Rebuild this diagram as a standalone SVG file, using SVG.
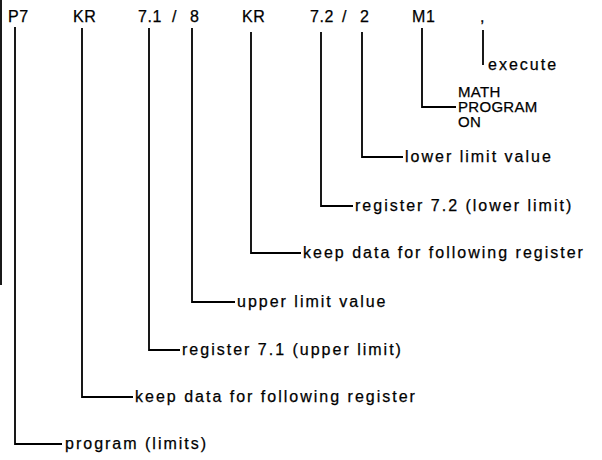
<svg xmlns="http://www.w3.org/2000/svg" width="602" height="460" viewBox="0 0 602 460">
<style>
text{font-family:"Liberation Sans",Arial,sans-serif;font-size:16px;fill:#000;stroke:#000;stroke-width:0.25}
.t{letter-spacing:0.6px}
.m{font-size:15px;letter-spacing:0.3px}
.l{letter-spacing:2px}
.c{fill:none;stroke:#000;stroke-width:1.8}
</style>
<rect width="602" height="460" fill="#fff"/>
<g id="edge"><line class="c" x1="1" y1="0" x2="1" y2="285"/></g>
<g id="connectors">
<polyline class="c" points="15,27 15,444 62,444"/>
<polyline class="c" points="82,28 82,397 133,397"/>
<polyline class="c" points="149,28 149,350 180,350"/>
<polyline class="c" points="192,28 192,302 235,302"/>
<polyline class="c" points="251,32 251,253 301,253"/>
<polyline class="c" points="321,32 321,206 353,206"/>
<polyline class="c" points="362,32 362,157 403,157"/>
<polyline class="c" points="422,28 422,107 456,107"/>
<line class="c" x1="483" y1="30" x2="483" y2="65"/>
</g>
<g id="top">
<text class="t" x="8" y="22">P7</text>
<text class="t" x="73" y="22">KR</text>
<text class="t" x="138" y="22">7.1</text>
<text class="t" x="172" y="22">/</text>
<text class="t" x="190" y="22">8</text>
<text class="t" x="242" y="22">KR</text>
<text class="t" x="310" y="22">7.2</text>
<text class="t" x="342" y="22">/</text>
<text class="t" x="360" y="22">2</text>
<text class="t" x="412" y="22">M1</text>
<text class="t" x="480" y="22">,</text>
</g>
<g id="n-execute"><text class="l" x="488" y="70">execute</text></g>
<g id="n-math">
<text class="m" x="458" y="97">MATH</text>
<text class="m" x="458" y="112">PROGRAM</text>
<text class="m" x="458" y="127">ON</text>
</g>
<g id="n-lower-value"><text class="l" x="405" y="162">lower limit value</text></g>
<g id="n-reg72"><text class="l" x="355" y="211">register 7.2 (lower limit)</text></g>
<g id="n-keep2"><text class="l" x="303" y="258">keep data for following register</text></g>
<g id="n-upper-value"><text class="l" x="237" y="307">upper limit value</text></g>
<g id="n-reg71"><text class="l" x="182" y="355">register 7.1 (upper limit)</text></g>
<g id="n-keep1"><text class="l" x="135" y="402">keep data for following register</text></g>
<g id="n-program"><text class="l" x="65" y="449">program (limits)</text></g>
</svg>
